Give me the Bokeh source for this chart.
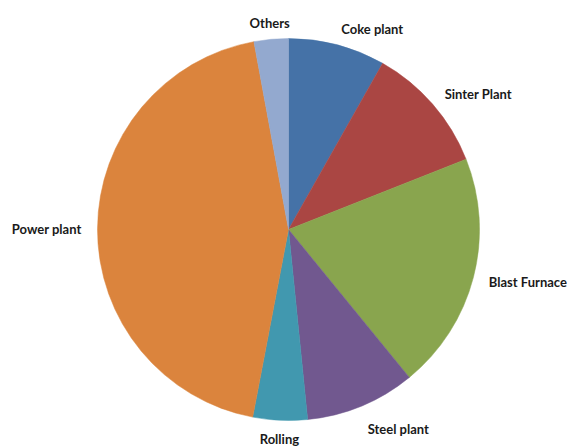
import math
from bokeh.plotting import figure
from bokeh.models import Range1d
from bokeh.embed import file_html
from bokeh.resources import INLINE
from bokeh.core.properties import value

categories = ["Coke plant", "Sinter Plant", "Blast Furnace", "Steel plant", "Rolling", "Power plant", "Others"]
shares = [8.2, 10.8, 20.1, 9.3, 4.6, 44.1, 2.9]
colors = ["#4572A7", "#AA4643", "#89A54E", "#71588F", "#4198AF", "#DB843D", "#93A9CF"]

W, H = 567, 446
CX, CY = 288, 446 - 229
R = 191
GAP = 16
FS = 13

p = figure(width=W, height=H, output_backend="svg", toolbar_location=None,
           x_range=Range1d(0, W), y_range=Range1d(0, H),
           x_axis_type=None, y_axis_type=None, min_border=0)
p.outline_line_color = None
p.grid.visible = False
p.background_fill_color = "white"
p.border_fill_color = "white"

total = float(sum(shares))
cum = 0.0
starts, ends, mids = [], [], []
for v in shares:
    a0 = cum / total * 2 * math.pi
    cum += v
    a1 = cum / total * 2 * math.pi
    starts.append(math.pi / 2 - a0)
    ends.append(math.pi / 2 - a1)
    mids.append((a0 + a1) / 2)

p.wedge(x=[CX] * len(shares), y=[CY] * len(shares), radius=R,
        start_angle=starts, end_angle=ends, direction="clock",
        fill_color=colors, line_color=colors, line_width=0.5)

for name, m in zip(categories, mids):
    sx, cy = math.sin(m), math.cos(m)
    x = CX + (R + GAP) * sx
    y = CY + (R + GAP) * cy
    align = "left" if sx > 0.2 else ("right" if sx < -0.2 else "center")
    base = "top" if cy < -0.9 else "middle"
    if base == "top":
        y = max(y, FS + 3)
    p.text(x=[x], y=[y], text=[name], text_align=align, text_baseline=base,
           text_font=value("Lato"), text_font_style="bold",
           text_font_size=f"{FS}px", text_color="#1a1a1a")

open("out.html", "w").write(file_html(p, INLINE))
